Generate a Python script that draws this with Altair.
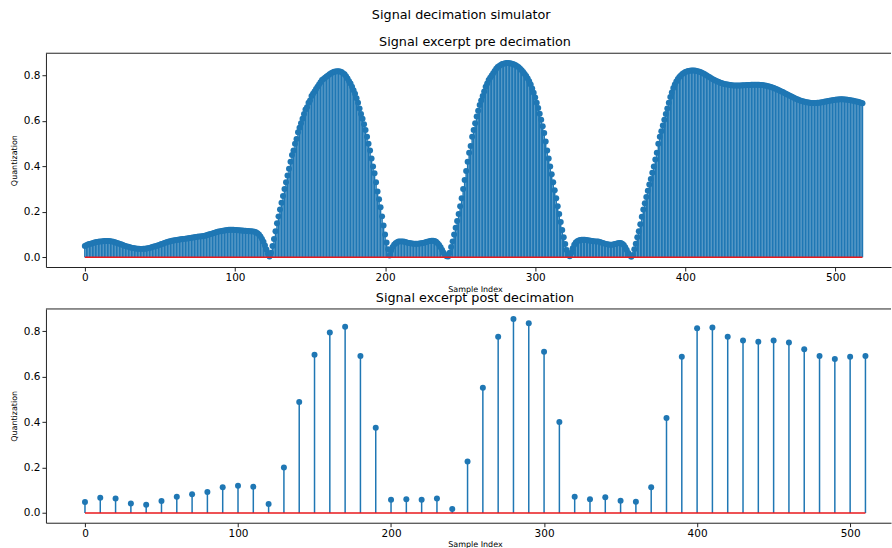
import altair as alt
import pandas as pd

# Sample indices of the raw excerpt and of the decimated excerpt (factor 10)
pre_index = list(range(519))
post_index = list(range(0, 520, 10))

# Quantized amplitude of the raw excerpt, one value per sample
pre_values = [
    0.050, 0.053, 0.056, 0.058, 0.060, 0.062, 0.064, 0.066, 0.067, 0.068,
    0.069, 0.070, 0.071, 0.072, 0.072, 0.072, 0.072, 0.071, 0.070, 0.068,
    0.066, 0.064, 0.062, 0.060, 0.057, 0.055, 0.052, 0.050, 0.048, 0.046,
    0.044, 0.042, 0.041, 0.040, 0.039, 0.038, 0.038, 0.037, 0.037, 0.038,
    0.038, 0.039, 0.040, 0.041, 0.043, 0.045, 0.047, 0.049, 0.051, 0.053,
    0.055, 0.058, 0.060, 0.063, 0.065, 0.067, 0.069, 0.071, 0.073, 0.074,
    0.075, 0.076, 0.077, 0.078, 0.079, 0.080, 0.081, 0.082, 0.083, 0.084,
    0.085, 0.086, 0.087, 0.088, 0.089, 0.090, 0.091, 0.092, 0.093, 0.094,
    0.095, 0.097, 0.099, 0.101, 0.103, 0.105, 0.107, 0.109, 0.111, 0.113,
    0.114, 0.116, 0.117, 0.118, 0.119, 0.120, 0.121, 0.121, 0.121, 0.121,
    0.120, 0.120, 0.119, 0.119, 0.118, 0.118, 0.117, 0.117, 0.116, 0.116,
    0.115, 0.115, 0.114, 0.112, 0.110, 0.106, 0.100, 0.092, 0.081, 0.068,
    0.052, 0.034, 0.016, 0.003, 0.020, 0.050, 0.080, 0.115, 0.150, 0.180,
    0.210, 0.240, 0.270, 0.300, 0.330, 0.360, 0.390, 0.420, 0.450, 0.470,
    0.500, 0.520, 0.550, 0.570, 0.590, 0.610, 0.630, 0.650, 0.660, 0.680,
    0.690, 0.710, 0.720, 0.730, 0.740, 0.750, 0.760, 0.770, 0.780, 0.785,
    0.790, 0.795, 0.800, 0.805, 0.810, 0.813, 0.816, 0.818, 0.819, 0.819,
    0.818, 0.815, 0.810, 0.805, 0.797, 0.787, 0.775, 0.765, 0.750, 0.735,
    0.720, 0.700, 0.680, 0.655, 0.630, 0.610, 0.585, 0.560, 0.530, 0.500,
    0.470, 0.435, 0.400, 0.370, 0.330, 0.290, 0.255, 0.220, 0.180, 0.140,
    0.100, 0.065, 0.035, 0.008, 0.030, 0.045, 0.055, 0.062, 0.066, 0.069,
    0.070, 0.070, 0.069, 0.068, 0.066, 0.064, 0.063, 0.062, 0.061, 0.060,
    0.060, 0.060, 0.060, 0.061, 0.062, 0.063, 0.064, 0.066, 0.068, 0.070,
    0.072, 0.073, 0.073, 0.072, 0.068, 0.062, 0.054, 0.044, 0.032, 0.020,
    0.010, 0.004, 0.003, 0.020, 0.045, 0.070, 0.100, 0.130, 0.160, 0.190,
    0.225, 0.260, 0.300, 0.340, 0.380, 0.420, 0.460, 0.490, 0.530, 0.560,
    0.590, 0.620, 0.645, 0.670, 0.690, 0.710, 0.730, 0.750, 0.765, 0.780,
    0.790, 0.800, 0.810, 0.820, 0.830, 0.837, 0.842, 0.846, 0.850, 0.852,
    0.854, 0.855, 0.855, 0.854, 0.853, 0.851, 0.848, 0.845, 0.841, 0.836,
    0.830, 0.823, 0.815, 0.807, 0.798, 0.787, 0.775, 0.760, 0.743, 0.724,
    0.703, 0.680, 0.657, 0.632, 0.605, 0.577, 0.547, 0.510, 0.470, 0.435,
    0.400, 0.365, 0.330, 0.295, 0.260, 0.225, 0.190, 0.155, 0.120, 0.088,
    0.058, 0.032, 0.012, 0.004, 0.020, 0.040, 0.055, 0.065, 0.071, 0.074,
    0.076, 0.077, 0.077, 0.077, 0.076, 0.075, 0.074, 0.073, 0.072, 0.071,
    0.070, 0.070, 0.069, 0.067, 0.065, 0.063, 0.061, 0.059, 0.057, 0.056,
    0.055, 0.055, 0.056, 0.058, 0.060, 0.062, 0.063, 0.063, 0.060, 0.054,
    0.044, 0.032, 0.019, 0.008, 0.002, 0.010, 0.035, 0.060, 0.088, 0.115,
    0.145, 0.178, 0.210, 0.238, 0.265, 0.293, 0.320, 0.345, 0.372, 0.400,
    0.430, 0.460, 0.500, 0.530, 0.555, 0.580, 0.605, 0.630, 0.655, 0.680,
    0.705, 0.725, 0.745, 0.760, 0.773, 0.784, 0.793, 0.800, 0.806, 0.811,
    0.815, 0.818, 0.820, 0.821, 0.822, 0.822, 0.822, 0.821, 0.819, 0.817,
    0.815, 0.812, 0.809, 0.805, 0.801, 0.797, 0.793, 0.789, 0.785, 0.781,
    0.778, 0.775, 0.772, 0.769, 0.767, 0.765, 0.763, 0.761, 0.760, 0.759,
    0.758, 0.757, 0.756, 0.756, 0.756, 0.756, 0.756, 0.756, 0.757, 0.757,
    0.757, 0.758, 0.758, 0.758, 0.759, 0.759, 0.759, 0.759, 0.759, 0.759,
    0.758, 0.758, 0.757, 0.756, 0.755, 0.753, 0.751, 0.749, 0.747, 0.745,
    0.742, 0.739, 0.736, 0.733, 0.730, 0.727, 0.723, 0.720, 0.716, 0.713,
    0.710, 0.706, 0.703, 0.700, 0.697, 0.694, 0.691, 0.689, 0.687, 0.685,
    0.683, 0.682, 0.681, 0.680, 0.679, 0.679, 0.679, 0.679, 0.680, 0.680,
    0.681, 0.682, 0.683, 0.685, 0.686, 0.688, 0.689, 0.690, 0.691, 0.692,
    0.693, 0.694, 0.694, 0.695, 0.695, 0.695, 0.694, 0.694, 0.693, 0.692,
    0.691, 0.690, 0.689, 0.687, 0.686, 0.684, 0.682, 0.680, 0.678,
]

# Quantized amplitude after filtering and keeping every 10th sample
post_values = [
    0.048, 0.067, 0.064, 0.042, 0.036, 0.053, 0.072, 0.082, 0.092, 0.113,
    0.120, 0.116, 0.040, 0.200, 0.488, 0.696, 0.794, 0.819, 0.691, 0.375,
    0.058, 0.061, 0.058, 0.064, 0.018, 0.227, 0.551, 0.775, 0.854, 0.835,
    0.709, 0.400, 0.072, 0.061, 0.069, 0.054, 0.050, 0.113, 0.418, 0.687,
    0.813, 0.816, 0.776, 0.759, 0.754, 0.759, 0.750, 0.721, 0.691, 0.678,
    0.688, 0.691,
]

x_ticks = [0, 100, 200, 300, 400, 500]
y_ticks = [0.0, 0.2, 0.4, 0.6, 0.8]

STEM = "#1f77b4"
BASE = "#e8191c"
INK = "#222222"
FONT = "DejaVu Sans"
W, H = 846, 214
Y_DOMAIN = [-0.0428, 0.8978]


def stem_panel(index, values, x_domain, title, x_title_y):
    df = pd.DataFrame({"n": index, "v": values})
    base = alt.Chart(df)
    x = alt.X(
        "n:Q",
        scale=alt.Scale(domain=x_domain, nice=False, zero=False),
        axis=alt.Axis(
            values=x_ticks, format="d", title="Sample Index",
            titleX=429.5, titleY=x_title_y, titleBaseline="middle",
            titleAlign="center",
        ),
    )
    y = alt.Y(
        "v:Q",
        scale=alt.Scale(domain=Y_DOMAIN, nice=False, zero=False),
        axis=alt.Axis(
            values=y_ticks, format=".1f", title="Quantization",
            titleX=-31, titleY=H / 2, titleBaseline="middle",
            titleAlign="center", titleAngle=270,
        ),
    )
    stems = base.mark_rule(color=STEM, strokeWidth=1.5).encode(
        x=x, y=y, y2=alt.datum(0)
    )
    dots = base.mark_circle(size=36, color=STEM, opacity=1).encode(
        x="n:Q", y="v:Q"
    )
    baseline = base.mark_rule(color=BASE, strokeWidth=1.5).encode(
        x="min(n):Q", x2="max(n):Q", y=alt.datum(0)
    )
    top_spine = alt.Chart(alt.Data(values=[{}])).mark_rule(
        color=INK, strokeWidth=1
    ).encode(x=alt.value(0), x2=alt.value(W), y=alt.value(0))
    return alt.layer(stems, dots, baseline, top_spine).properties(
        width=W,
        height=H,
        title=alt.TitleParams(
            text=title, anchor="middle", dx=6.5, offset=4, frame="group",
        ),
    )


pre = stem_panel(pre_index, pre_values, [-25.9, 537.0],
                 "Signal excerpt pre decimation", 23)
post = stem_panel(post_index, post_values, [-25.5, 526.7],
                  "Signal excerpt post decimation", 22)

chart = (
    alt.vconcat(
        pre, post,
        spacing=42,
        bounds="flush",
        title=alt.TitleParams(
            text="Signal decimation simulator", anchor="middle", dx=10,
            offset=14,
        ),
        padding={"left": 11, "top": 8, "right": 0, "bottom": 0},
    )
    .configure_view(stroke=None)
    .configure_title(font=FONT, fontSize=12.8, fontWeight="normal", color="black")
    .configure_axis(
        grid=False,
        labelFont=FONT, labelFontSize=10.5, labelColor="black",
        titleFont=FONT, titleFontSize=8, titleFontWeight="normal", titleColor="black",
        domainColor=INK, domainWidth=1, tickColor=INK, tickWidth=1,
        tickSize=4, labelPadding=2,
    )
)

chart.save("out.html", embed_options={"renderer": "svg", "actions": False})
